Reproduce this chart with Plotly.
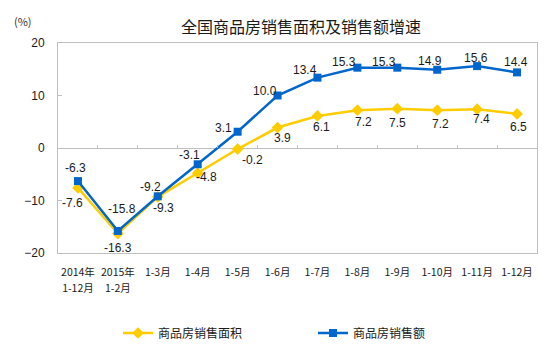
import plotly.graph_objects as go

categories = ["2014年<br>1-12月", "2015年<br>1-2月", "1-3月", "1-4月", "1-5月", "1-6月",
              "1-7月", "1-8月", "1-9月", "1-10月", "1-11月", "1-12月"]
area_growth = [-7.6, -16.3, -9.3, -4.8, -0.2, 3.9, 6.1, 7.2, 7.5, 7.2, 7.4, 6.5]
amount_growth = [-6.3, -15.8, -9.2, -3.1, 3.1, 10.0, 13.4, 15.3, 15.3, 14.9, 15.6, 14.4]
y_ticks = [-20, -10, 0, 10, 20]

# label offsets (pixels) - styling only
amount_dx = [-2, 4, -7, -8, -14, -13, -12, -13, -13, -7, -1, -1]
amount_dy = [13, 22, 9, 9, 4, 5, 8, 6, 6, 9, 8, 10]
area_dx = [-5, 0, 6, 9, 15, 5, 4, 6, 0, 3, 4, 1]
area_dy = [-15, -14, -11, -4, -11, -10, -11, -12, -14, -14, -10, -13]

YELLOW = "#FFCC00"
BLUE = "#0066CC"
GRID = "#BFBFBF"
CJK = "Noto Sans CJK SC"
LAT = "Liberation Sans"

# tick labels drawn at 11px with 16px line spacing
tick_text = ["<br>".join(f"<span style='font-size:10.5px'>{part}</span>"
                         for part in c.split("<br>")) for c in categories]

fig = go.Figure()
fig.add_trace(go.Scatter(
    x=categories, y=area_growth, name="商品房销售面积", mode="lines+markers",
    line=dict(color=YELLOW, width=2.5),
    marker=dict(symbol="diamond", size=9, color=YELLOW),
))
fig.add_trace(go.Scatter(
    x=categories, y=amount_growth, name="商品房销售额", mode="lines+markers",
    line=dict(color=BLUE, width=2.5),
    marker=dict(symbol="square", size=8, color=BLUE),
))
# helper trace for the zero-line tick axis
fig.add_trace(go.Scatter(x=[-0.5, 11.5], y=[None, None], xaxis="x2", yaxis="y",
                         showlegend=False, hoverinfo="skip", mode="lines"))

ann = []
for c, v, dx, dy in zip(categories, amount_growth, amount_dx, amount_dy):
    ann.append(dict(x=c, y=v, text=f"{v:.1f}", showarrow=False, xshift=dx, yshift=dy,
                    font=dict(family=LAT, size=12, color="#1a1a1a")))
for c, v, dx, dy in zip(categories, area_growth, area_dx, area_dy):
    ann.append(dict(x=c, y=v, text=f"{v:.1f}", showarrow=False, xshift=dx, yshift=dy,
                    font=dict(family=LAT, size=12, color="#1a1a1a")))
ann.append(dict(x=(23 - 58) / 479, y=(253 - 21) / 210, xref="paper", yref="paper",
                text="(%)", showarrow=False, xanchor="center", yanchor="middle",
                font=dict(family=CJK, size=11, color="#333333")))

fig.update_layout(
    width=554, height=353,
    margin=dict(l=58, r=17, t=43, b=100, autoexpand=False),
    paper_bgcolor="white", plot_bgcolor="white",
    title=dict(text="全国商品房销售面积及销售额增速", x=301 / 554, xanchor="center",
               y=1 - 27 / 353, yanchor="middle",
               font=dict(family=CJK, size=16, color="#1a1a1a")),
    xaxis=dict(type="category", range=[-0.5, 11.5], showline=True, linecolor=GRID,
               linewidth=1, mirror=True, ticks="", showgrid=False,
               tickvals=categories, ticktext=tick_text,
               tickfont=dict(family=CJK, size=12.3, color="#1a1a1a"),
               ticklabelstandoff=7),
    xaxis2=dict(overlaying="x", anchor="free", position=0.5, range=[-0.5, 11.5],
                showline=False, ticks="inside", ticklen=3, tickcolor=GRID,
                tickvals=[i + 0.5 for i in range(11)], showticklabels=False,
                showgrid=False, zeroline=False),
    yaxis=dict(range=[-20, 20], tickvals=y_ticks, showline=True, linecolor=GRID,
               linewidth=1, mirror=True, ticks="inside", ticklen=4, tickcolor=GRID,
               showgrid=False, zeroline=True, zerolinecolor=GRID, zerolinewidth=1,
               tickfont=dict(family=LAT, size=12, color="#1a1a1a"),
               ticklabelstandoff=10),
    legend=dict(orientation="h", x=(118 - 58) / 479, xanchor="left",
                y=-(333 - 253) / 210, yanchor="middle",
                entrywidth=150, entrywidthmode="pixels",
                font=dict(family=CJK, size=12, color="#1a1a1a")),
    annotations=ann,
    showlegend=True,
)
fig.write_html("out.html")
